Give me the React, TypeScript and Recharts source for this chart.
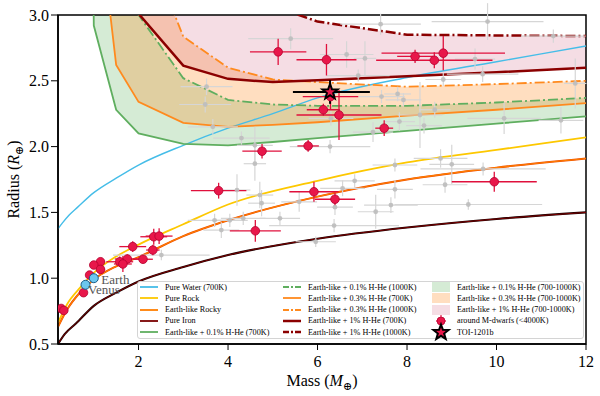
import React from 'react';
import { Area, ComposedChart, ErrorBar, LabelList, Line, ReferenceArea, Scatter, XAxis, YAxis } from 'recharts';

const FONT = '"Liberation Serif", "DejaVu Serif", serif';

// interior models (mass in Earth masses, radius in Earth radii)
const rockMass = [0.2, 0.4, 0.7, 1, 1.5, 2, 3, 4, 6, 8, 10, 12];
const pureRockR = [0.66, 0.8, 0.93, 1.04, 1.165, 1.255, 1.41, 1.56, 1.74, 1.88, 1.975, 2.07];
const earthLikeR = [0.63, 0.76, 0.895, 0.99, 1.09, 1.16, 1.32, 1.44, 1.62, 1.75, 1.84, 1.91];
const ironMass = [0.2, 0.35, 0.6, 1, 1.5, 2, 3, 4, 6, 8, 10, 12];
const pureIronR = [0.5, 0.575, 0.655, 0.79, 0.89, 0.975, 1.085, 1.176, 1.3, 1.385, 1.45, 1.5];
const waterMass = [0.2, 0.3, 0.45, 0.64, 1, 1.5, 2, 3, 4, 5, 6, 8, 10, 12];
const pureWaterR = [1.375, 1.42, 1.48, 1.54, 1.65, 1.76, 1.86, 2.01, 2.14, 2.25, 2.37, 2.525, 2.645, 2.765];

// H-He envelope models
const hheMass = [0.98, 1, 1.5, 2, 3, 4, 5, 6, 8, 10, 12];
const hhe01_700 = [3.6, 2.92, 2.28, 2.1, 2.02, 2.01, 2.035, 2.065, 2.12, 2.175, 2.23];
const hhe01_1000 = [6, 6, 4, 3.0, 2.52, 2.355, 2.32, 2.31, 2.31, 2.335, 2.37];
const hhe03_700 = [4.2, 4.08, 2.62, 2.34, 2.18, 2.15, 2.165, 2.185, 2.235, 2.28, 2.33];
const hhe03_1000 = [6, 6, 4.8, 3.7, 2.835, 2.6, 2.51, 2.49, 2.455, 2.475, 2.5];
const hhe1_700 = [6, 6, 3.8, 3.01, 2.615, 2.515, 2.49, 2.505, 2.535, 2.565, 2.6];
const hhe1_1000 = [7, 7, 6, 4.5, 3.8, 3.35, 3.07, 2.95, 2.85, 2.845, 2.84];

// [mass, radius, mass err, radius err]
const otherPlanets = [
  [3.52, 2.455, 0.58, 0.063], [3.49, 2.32, 0.58, 0.06], [3.66, 2.15, 0.56, 0.06], [4.3, 2.065, 0.63, 0.05],
  [4.6, 2.01, 0.4, 0.14], [4.6, 1.87, 0.25, 0.13], [4.2, 1.67, 0.3, 0.12], [5.4, 2.82, 0.95, 0.08],
  [6.65, 2.7, 0.6, 0.1], [7.06, 2.67, 0.25, 0.13], [6.91, 2.54, 0.7, 0.045], [7.41, 2.93, 0.9, 0.08],
  [7.43, 2.38, 0.52, 0.05], [7.79, 2.4, 0.3, 0.055], [7.92, 2.355, 0.4, 0.05], [6.3, 2.215, 0.5, 0.055],
  [7.24, 2.11, 0.45, 0.075], [7.83, 2.19, 0.35, 0.07], [6.28, 2.0, 0.9, 0.05], [8.29, 2.24, 0.5, 0.25],
  [8.38, 2.16, 0.4, 0.06], [8.62, 2.28, 0.35, 0.06], [10.17, 2.215, 0.82, 0.12], [11.44, 2.2, 0.5, 0.1],
  [11.76, 2.48, 0.25, 0.19], [11.27, 2.84, 0.72, 0.05], [9.8, 2.95, 1.25, 0.14], [8.81, 2.51, 0.4, 0.05],
  [9.69, 2.55, 0.8, 0.06], [9.52, 2.665, 0.45, 0.08], [4.71, 1.632, 0.3, 0.1], [4.34, 1.455, 0.5, 0.05],
  [5.16, 1.455, 0.45, 0.05], [5.59, 1.58, 0.4, 0.075], [6.56, 1.683, 0.5, 0.06], [6.83, 1.74, 0.45, 0.05],
  [6.37, 1.4, 1.45, 0.05], [7.3, 1.505, 0.4, 0.13], [7.64, 1.556, 0.6, 0.06], [7.73, 1.675, 0.4, 0.07],
  [7.73, 1.86, 0.5, 0.05], [5.96, 1.277, 0.45, 0.04], [8.75, 1.91, 0.6, 0.07], [9.0, 1.865, 0.5, 0.15],
  [9.7, 1.83, 1.4, 0.05], [8.85, 1.71, 0.5, 0.06], [9.37, 1.56, 1.65, 0.04], [2.51, 1.176, 1.08, 0.04],
  [3.7, 1.44, 0.6, 0.05], [3.85, 1.366, 0.4, 0.06], [4.04, 1.44, 0.4, 0.05], [4.75, 1.57, 0.3, 0.1],
  [6.39, 1.54, 0.4, 0.06],
];

const mDwarfPlanets = [
  [5.12, 2.72, 0.63, 0.1], [6.2, 2.66, 0.67, 0.12], [6.13, 2.28, 0.37, 0.045], [6.29, 2.38, 0.62, 0.1],
  [6.48, 2.24, 0.95, 0.19], [7.49, 2.14, 0.2, 0.06], [5.79, 2.005, 0.24, 0.045], [4.76, 1.965, 0.44, 0.055],
  [8.18, 2.685, 0.4, 0.05], [8.61, 2.656, 1.3, 0.06], [8.81, 2.71, 1.38, 0.13], [9.95, 1.733, 0.95, 0.076],
  [5.92, 1.657, 0.55, 0.076], [6.39, 1.6, 0.45, 0.05], [4.61, 1.36, 0.57, 0.083], [3.79, 1.665, 0.62, 0.06],
  [2.34, 1.315, 0.3, 0.06], [2.46, 1.32, 0.3, 0.06], [2.32, 1.214, 0.15, 0.04], [1.87, 1.24, 0.3, 0.04],
  [2.1, 1.144, 0.22, 0.03], [1.75, 1.146, 0.28, 0.035], [1.58, 1.125, 0.3, 0.04], [1.65, 1.108, 0.2, 0.06],
  [1.15, 1.125, 0.1, 0.03], [1.0, 1.1, 0.08, 0.03], [1.15, 1.067, 0.1, 0.03], [0.906, 1.024, 0.05, 0.02],
  [0.77, 0.89, 0.04, 0.02], [0.27, 0.77, 0.03, 0.02], [0.33, 0.755, 0.03, 0.02],
];

const solarNames = ['Earth', 'Venus'];
const solarMass = [1.0, 0.815];
const solarRadius = [1.0, 0.95];

const toiMass = 6.28;
const toiRadius = 2.415;
const toiMassErr = [0.83, 0.89];
const toiRadiusErr = 0.09;

const xTicks = [2, 4, 6, 8, 10, 12];
const yTicks = [0.5, 1.0, 1.5, 2.0, 2.5, 3.0];

const curve = (ms: number[], rs: number[]) => ms.map((m, i) => ({ m, r: rs[i] }));
const band = (lo: number[], hi: number[]) => hheMass.map((m, i) => ({ m, band: [lo[i], hi[i]] }));
const planets = (rows: number[][]) => rows.map(([m, r, em, er]) => ({ m, r, em, er }));

const COLORS = {
  water: '#45bde8',
  rock: '#fdc800',
  earthLike: '#ff7e00',
  iron: '#7a0000',
  green: '#5fae5f',
  orange: '#ff8a1e',
  darkRed: '#8b0000',
  red: '#e8174a',
};
const DASH = '10 3 2 3';

const starPath = (cx: number, cy: number, ro: number, ri: number) => {
  const pts: string[] = [];
  for (let i = 0; i < 10; i++) {
    const a = -Math.PI / 2 + (i * Math.PI) / 5;
    const rad = i % 2 === 0 ? ro : ri;
    pts.push(`${cx + rad * Math.cos(a)},${cy + rad * Math.sin(a)}`);
  }
  return `M${pts.join('L')}Z`;
};

const XTitle = ({ viewBox }: any) => (
  <text x={viewBox.x + viewBox.width / 2} y={viewBox.y + 42} textAnchor="middle" fontSize={16} fontFamily={FONT} fill="#000">
    Mass (<tspan fontStyle="italic">M</tspan>
    <tspan fontSize={11} dy={4}>⊕</tspan>
    <tspan dy={-4}>)</tspan>
  </text>
);

const YTitle = ({ viewBox }: any) => {
  const cy = viewBox.y + viewBox.height / 2;
  return (
    <text x={19} y={cy} transform={`rotate(-90, 19, ${cy})`} textAnchor="middle" fontSize={16} fontFamily={FONT} fill="#000">
      Radius (<tspan fontStyle="italic">R</tspan>
      <tspan fontSize={11} dy={4}>⊕</tspan>
      <tspan dy={-4}>)</tspan>
    </text>
  );
};

const SolarLabel = (props: any) => {
  const { x, y, value } = props;
  const isEarth = value === 'Earth';
  return (
    <text x={x + (isEarth ? 12 : 7)} y={y + (isEarth ? 10 : 14)} fontSize={13} fontFamily={FONT} fill="#555">
      {value}
    </text>
  );
};

type LegendItem = { label: string; kind: 'line' | 'patch' | 'dot' | 'star'; color: string; dash?: string; width?: number; opacity?: number };

const legendCols: LegendItem[][] = [
  [
    { label: 'Pure Water (700K)', kind: 'line', color: COLORS.water },
    { label: 'Pure Rock', kind: 'line', color: COLORS.rock },
    { label: 'Earth-like Rocky', kind: 'line', color: COLORS.earthLike },
    { label: 'Pure Iron', kind: 'line', color: COLORS.iron },
    { label: 'Earth-like + 0.1% H-He (700K)', kind: 'line', color: COLORS.green },
  ],
  [
    { label: 'Earth-like + 0.1% H-He (1000K)', kind: 'line', color: COLORS.green, dash: '6 2 2 2' },
    { label: 'Earth-like + 0.3% H-He (700K)', kind: 'line', color: COLORS.orange },
    { label: 'Earth-like + 0.3% H-He (1000K)', kind: 'line', color: COLORS.orange, dash: '6 2 2 2' },
    { label: 'Earth-like + 1% H-He (700K)', kind: 'line', color: COLORS.darkRed, width: 2.5 },
    { label: 'Earth-like + 1% H-He (1000K)', kind: 'line', color: COLORS.darkRed, dash: '6 2 2 2', width: 2.5 },
  ],
  [
    { label: 'Earth-like + 0.1% H-He (700-1000K)', kind: 'patch', color: '#2e9a2e', opacity: 0.2 },
    { label: 'Earth-like + 0.3% H-He (700-1000K)', kind: 'patch', color: COLORS.orange, opacity: 0.28 },
    { label: 'Earth-like + 1% H-He (700-1000K)', kind: 'patch', color: '#c8426a', opacity: 0.18 },
    { label: 'around M-dwarfs (<4000K)', kind: 'dot', color: COLORS.red },
    { label: 'TOI-1201b', kind: 'star', color: COLORS.red },
  ],
];
const legendColX = [140, 283, 432];
const legendRowY = [287, 298.3, 309.6, 320.9, 332.2];

const LegendSwatch = ({ item }: { item: LegendItem }) => (
  <svg width={18} height={12} style={{ display: 'block', overflow: 'visible' }}>
    {item.kind === 'line' && (
      <line x1={0} x2={18} y1={6} y2={6} stroke={item.color} strokeWidth={item.width ?? 1.8} strokeDasharray={item.dash} />
    )}
    {item.kind === 'patch' && <rect x={0} y={1} width={18} height={10} fill={item.color} fillOpacity={item.opacity} />}
    {item.kind === 'dot' && (
      <g>
        <line x1={9} x2={9} y1={0} y2={12} stroke={item.color} strokeWidth={1.2} />
        <line x1={4} x2={14} y1={6} y2={6} stroke={item.color} strokeWidth={1.2} />
        <circle cx={9} cy={6} r={4} fill={item.color} stroke="#b5002e" strokeWidth={0.8} />
      </g>
    )}
    {item.kind === 'star' && <path d={starPath(9, 6.5, 8, 3.3)} fill={item.color} stroke="#000" strokeWidth={2} />}
  </svg>
);

const ChartLegend = () => (
  <div>
    <div
      style={{
        position: 'absolute',
        left: 137,
        top: 281,
        width: 447,
        height: 58,
        background: 'rgba(255,255,255,0.85)',
        border: '1px solid #d4d4d4',
        borderRadius: 3,
        boxSizing: 'border-box',
      }}
    />
    {legendCols.map((col, ci) =>
      col.map((item, ri) => (
        <div
          key={`${ci}-${ri}`}
          style={{
            position: 'absolute',
            left: legendColX[ci],
            top: legendRowY[ri] - 6,
            height: 12,
            display: 'flex',
            alignItems: 'center',
            whiteSpace: 'nowrap',
            fontFamily: FONT,
            fontSize: 8.2,
            color: '#000',
          }}
        >
          <LegendSwatch item={item} />
          <span style={{ marginLeft: 7 }}>{item.label}</span>
        </div>
      )),
    )}
  </div>
);

export default function App() {
  const greyData = planets(otherPlanets);
  const redData = planets(mDwarfPlanets);
  const solarData = solarNames.map((name, i) => ({ name, m: solarMass[i], r: solarRadius[i] }));
  const toiData = [{ m: toiMass, r: toiRadius, em: toiMassErr, er: toiRadiusErr }];
  const tick = { fontSize: 16, fill: '#000', fontFamily: FONT };

  return (
    <div style={{ position: 'absolute', left: 0, top: 0, width: 600, height: 396, background: '#fff' }}>
      <ComposedChart width={600} height={396} margin={{ top: 15, right: 14, bottom: 0, left: 0 }}>
        <XAxis
          type="number"
          dataKey="m"
          domain={[0.2, 12]}
          ticks={xTicks}
          allowDataOverflow
          height={52}
          tickSize={6}
          tickMargin={6}
          tick={tick}
          axisLine={{ stroke: '#000', strokeWidth: 1.5 }}
          tickLine={{ stroke: '#000' }}
          label={<XTitle />}
        />
        <YAxis
          type="number"
          dataKey="r"
          domain={[0.5, 3]}
          ticks={yTicks}
          allowDataOverflow
          width={58}
          tickSize={7}
          tickMargin={2}
          tick={tick}
          tickFormatter={(v: number) => v.toFixed(1)}
          axisLine={{ stroke: '#000', strokeWidth: 1.5 }}
          tickLine={{ stroke: '#000' }}
          label={<YTitle />}
        />

        <Area data={band(hhe01_700, hhe01_1000)} dataKey="band" type="linear" stroke="none" fill="#2e9a2e" fillOpacity={0.2} isAnimationActive={false} />
        <Area data={band(hhe03_700, hhe03_1000)} dataKey="band" type="linear" stroke="none" fill={COLORS.orange} fillOpacity={0.28} isAnimationActive={false} />
        <Area data={band(hhe1_700, hhe1_1000)} dataKey="band" type="linear" stroke="none" fill="#c8426a" fillOpacity={0.18} isAnimationActive={false} />

        <Line data={curve(waterMass, pureWaterR)} dataKey="r" type="monotone" stroke={COLORS.water} strokeWidth={1.4} dot={false} activeDot={false} isAnimationActive={false} />
        <Line data={curve(rockMass, pureRockR)} dataKey="r" type="monotone" stroke={COLORS.rock} strokeWidth={1.8} dot={false} activeDot={false} isAnimationActive={false} />
        <Line data={curve(rockMass, earthLikeR)} dataKey="r" type="monotone" stroke="#ec4c00" strokeWidth={2} dot={false} activeDot={false} isAnimationActive={false} />
        <Line data={curve(rockMass, earthLikeR)} dataKey="r" type="monotone" stroke={COLORS.earthLike} strokeWidth={1.1} dot={false} activeDot={false} isAnimationActive={false} />
        <Line data={curve(ironMass, pureIronR)} dataKey="r" type="monotone" stroke="#1a0000" strokeWidth={2.1} dot={false} activeDot={false} isAnimationActive={false} />
        <Line data={curve(ironMass, pureIronR)} dataKey="r" type="monotone" stroke={COLORS.iron} strokeWidth={1} dot={false} activeDot={false} isAnimationActive={false} />

        <Line data={curve(hheMass, hhe01_700)} dataKey="r" type="linear" stroke={COLORS.green} strokeWidth={1.8} dot={false} activeDot={false} isAnimationActive={false} />
        <Line data={curve(hheMass, hhe01_1000)} dataKey="r" type="linear" stroke={COLORS.green} strokeWidth={1.8} strokeDasharray={DASH} dot={false} activeDot={false} isAnimationActive={false} />
        <Line data={curve(hheMass, hhe03_700)} dataKey="r" type="linear" stroke={COLORS.orange} strokeWidth={1.8} dot={false} activeDot={false} isAnimationActive={false} />
        <Line data={curve(hheMass, hhe03_1000)} dataKey="r" type="linear" stroke={COLORS.orange} strokeWidth={1.8} strokeDasharray={DASH} dot={false} activeDot={false} isAnimationActive={false} />
        <Line data={curve(hheMass, hhe1_700)} dataKey="r" type="linear" stroke={COLORS.darkRed} strokeWidth={2.5} dot={false} activeDot={false} isAnimationActive={false} />
        <Line data={curve(hheMass, hhe1_1000)} dataKey="r" type="linear" stroke={COLORS.darkRed} strokeWidth={2.5} strokeDasharray={DASH} dot={false} activeDot={false} isAnimationActive={false} />

        <Scatter
          data={greyData}
          dataKey="r"
          isAnimationActive={false}
          shape={(p: any) => <circle cx={p.cx} cy={p.cy} r={2.4} fill="#bdbdbd" fillOpacity={0.9} />}
        >
          <ErrorBar dataKey="em" direction="x" width={0} stroke="#d6d6d6" strokeWidth={1.2} isAnimationActive={false} />
          <ErrorBar dataKey="er" direction="y" width={0} stroke="#d6d6d6" strokeWidth={1.2} isAnimationActive={false} />
        </Scatter>

        <Scatter
          data={redData}
          dataKey="r"
          isAnimationActive={false}
          shape={(p: any) => <circle cx={p.cx} cy={p.cy} r={4.3} fill={COLORS.red} stroke="#b5002e" strokeWidth={0.8} />}
        >
          <ErrorBar dataKey="em" direction="x" width={0} stroke="#e0103c" strokeWidth={1.3} isAnimationActive={false} />
          <ErrorBar dataKey="er" direction="y" width={0} stroke="#e0103c" strokeWidth={1.3} isAnimationActive={false} />
        </Scatter>

        <Scatter
          data={solarData}
          dataKey="r"
          isAnimationActive={false}
          shape={(p: any) => <circle cx={p.cx} cy={p.cy} r={4.5} fill="#6cc7ee" stroke="#1a5d8a" strokeWidth={1} />}
        >
          <LabelList dataKey="name" content={<SolarLabel />} />
        </Scatter>

        <Scatter
          data={toiData}
          dataKey="r"
          isAnimationActive={false}
          shape={(p: any) => <path d={starPath(p.cx, p.cy, 8, 3.3)} fill={COLORS.red} stroke="#000" strokeWidth={2} />}
        >
          <ErrorBar dataKey="em" direction="x" width={0} stroke="#000" strokeWidth={2} isAnimationActive={false} />
          <ErrorBar dataKey="er" direction="y" width={0} stroke="#000" strokeWidth={2} isAnimationActive={false} />
        </Scatter>

        <ReferenceArea x1={0.2} x2={12} y1={0.5} y2={3} fill="none" stroke="#000" strokeWidth={1.5} ifOverflow="visible" />
      </ComposedChart>
      <ChartLegend />
    </div>
  );
}
